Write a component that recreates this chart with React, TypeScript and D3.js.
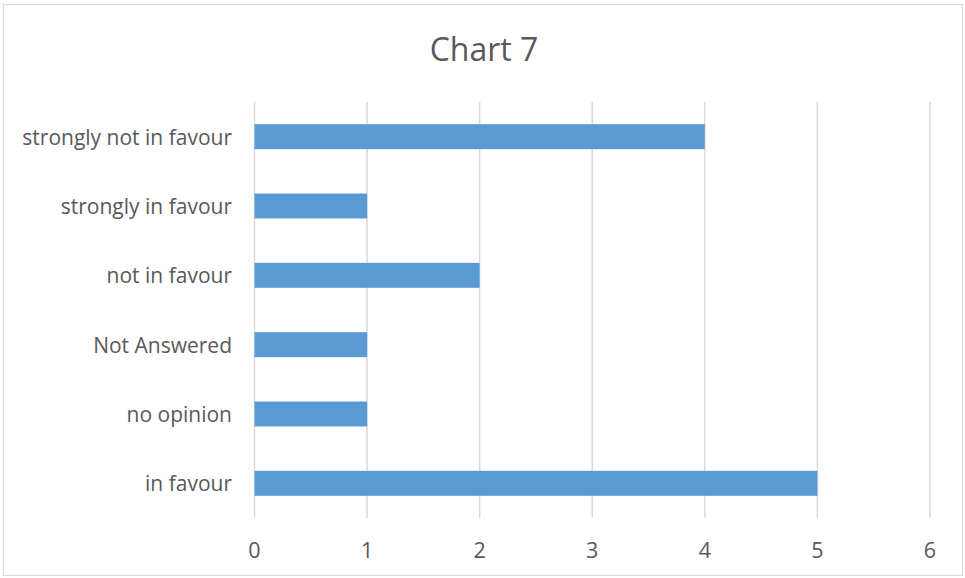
import React from "react";
import * as d3 from "d3";

const categories = ["strongly not in favour", "strongly in favour", "not in favour", "Not Answered", "no opinion", "in favour"];
const values = [4, 1, 2, 1, 1, 5];
const ticks = [0, 1, 2, 3, 4, 5, 6];
const title = "Chart 7";

export default function App() {
  const W = 965, H = 578;
  const x = d3.scaleLinear().domain([0, 6]).range([254.5, 930]);
  const y = d3.scaleBand().domain(categories).range([102, 518]).paddingInner(0.64).paddingOuter(0.32);
  const font = "'Open Sans', sans-serif";
  return (
    <svg width={W} height={H} style={{ position: "absolute", left: 0, top: 0 }}>
      <rect x={3.5} y={4.5} width={959} height={571} fill="#fff" stroke="#d9d9d9" strokeWidth={1} />
      <text x={484} y={48} textAnchor="middle" dominantBaseline="central" fontFamily={font} fontSize={32} fill="#595959">{title}</text>
      {ticks.map((t) => (
        <line key={"g" + t} x1={x(t)} x2={x(t)} y1={102} y2={518} stroke="#d9d9d9" strokeWidth={1.5} />
      ))}
      {categories.map((c, i) => (
        <rect key={c} x={x(0)} y={y(c)!} width={x(values[i]) - x(0)} height={y.bandwidth()} fill="#5b9bd5" />
      ))}
      {categories.map((c) => (
        <text key={"l" + c} x={232} y={y(c)! + y.bandwidth() / 2} textAnchor="end" dominantBaseline="central" fontFamily={font} fontSize={21} fill="#595959">{c}</text>
      ))}
      {ticks.map((t) => (
        <text key={"t" + t} x={x(t)} y={549} textAnchor="middle" dominantBaseline="central" fontFamily={font} fontSize={21.5} fill="#595959">{t}</text>
      ))}
    </svg>
  );
}
